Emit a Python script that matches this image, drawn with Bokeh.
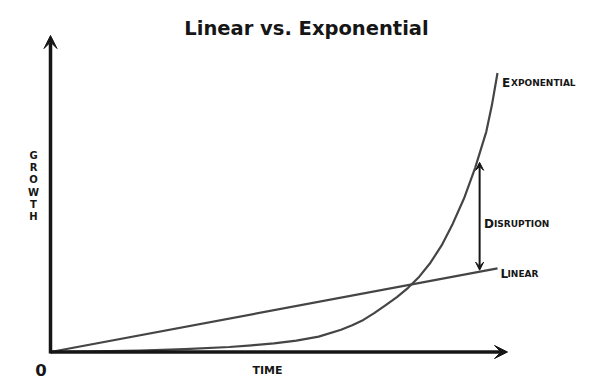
import numpy as np
from bokeh.plotting import figure
from bokeh.models import Arrow, VeeHead, Label, Range1d
from bokeh.embed import file_html
from bokeh.resources import INLINE

# ---- data ----
time = [0, 1, 2, 3, 4, 4.5, 5, 5.5, 6, 6.5, 6.75, 7, 7.25, 7.5, 7.75, 8,
        8.25, 8.5, 8.75, 9, 9.25, 9.5, 9.75, 9.875, 10]
exponential = [0, 0.02, 0.05, 0.1, 0.18, 0.24, 0.31, 0.41, 0.55, 0.8, 0.96,
               1.15, 1.4, 1.68, 1.97, 2.3, 2.7, 3.2, 3.82, 4.6, 5.5, 6.6,
               7.9, 8.85, 10.0]
linear_time = [0, 10]
linear = [0, 3.0]
disruption_time = 9.6

title_text = "Linear vs. Exponential"
y_label = "GROWTH"
x_label = "TIME"
origin_label = "0"

# ---- layout helpers (image pixel -> data) ----
X0, Y0 = 50.0, 351.5      # image px of origin
SX, SY = 44.7, 27.9       # px per unit


def tx(px):
    return (px - X0) / SX


def gy(py):
    return (Y0 - py) / SY


W, H = 600, 384
p = figure(width=W, height=H, min_border=0, title=None,
           x_axis_location=None, y_axis_location=None,
           toolbar_location=None, output_backend="svg",
           x_range=Range1d(tx(0), tx(W)), y_range=Range1d(gy(H), gy(0)))
p.grid.visible = False
p.outline_line_color = None
p.background_fill_color = "white"
p.border_fill_color = "white"

CURVE = "#454545"
INK = "#161616"
FONT = "DejaVu Sans"

p.line(linear_time, linear, line_color=CURVE, line_width=2.2)
p.line(time, exponential, line_color=CURVE, line_width=2.2, line_join="round")

# axes as arrows
p.add_layout(Arrow(end=VeeHead(size=13, fill_color=INK, line_color=INK, line_width=1),
                   x_start=0, y_start=0, x_end=tx(507), y_end=0,
                   line_color=INK, line_width=3.5))
p.add_layout(Arrow(end=VeeHead(size=13, fill_color=INK, line_color=INK, line_width=1),
                   x_start=0, y_start=gy(353), x_end=0, y_end=gy(35),
                   line_color=INK, line_width=3.5))

# disruption arrow between the two curves
y_lin = float(np.interp(disruption_time, linear_time, linear))
y_exp = float(np.interp(disruption_time, time, exponential))
p.add_layout(Arrow(start=VeeHead(size=8, fill_color=INK, line_color=INK, line_width=1),
                   end=VeeHead(size=8, fill_color=INK, line_color=INK, line_width=1),
                   x_start=disruption_time, y_start=y_lin + 1.5 / SY,
                   x_end=disruption_time, y_end=y_exp - 9 / SY,
                   line_color=INK, line_width=2))


def label(x, y, text, size, align="left", baseline="alphabetic"):
    p.add_layout(Label(x=x, y=y, text=text, text_font=FONT, text_font_style="bold",
                       text_font_size=size, text_color=INK,
                       text_align=align, text_baseline=baseline))


# title
label(tx(306), gy(27.5), title_text, "19.5px", align="center")

# axis labels
for i, ch in enumerate(y_label):
    label(tx(33), gy(155 + 12.2 * i), ch, "10px", align="center", baseline="middle")
label(tx(267), gy(370), x_label, "11px", align="center")
label(tx(40.5), gy(369.5), origin_label, "16.5px", align="center")

# small-caps series labels
label(tx(501.5), gy(82.3), "E", "12px")
label(tx(510.5), gy(82.3), "XPONENTIAL", "9px")
label(tx(483.5), gy(223.3), "D", "12px")
label(tx(493.5), gy(223.3), "ISRUPTION", "9px")
label(tx(500), gy(273.3), "L", "12px")
label(tx(507), gy(273.3), "INEAR", "9px")

open("out.html", "w").write(file_html(p, INLINE))
